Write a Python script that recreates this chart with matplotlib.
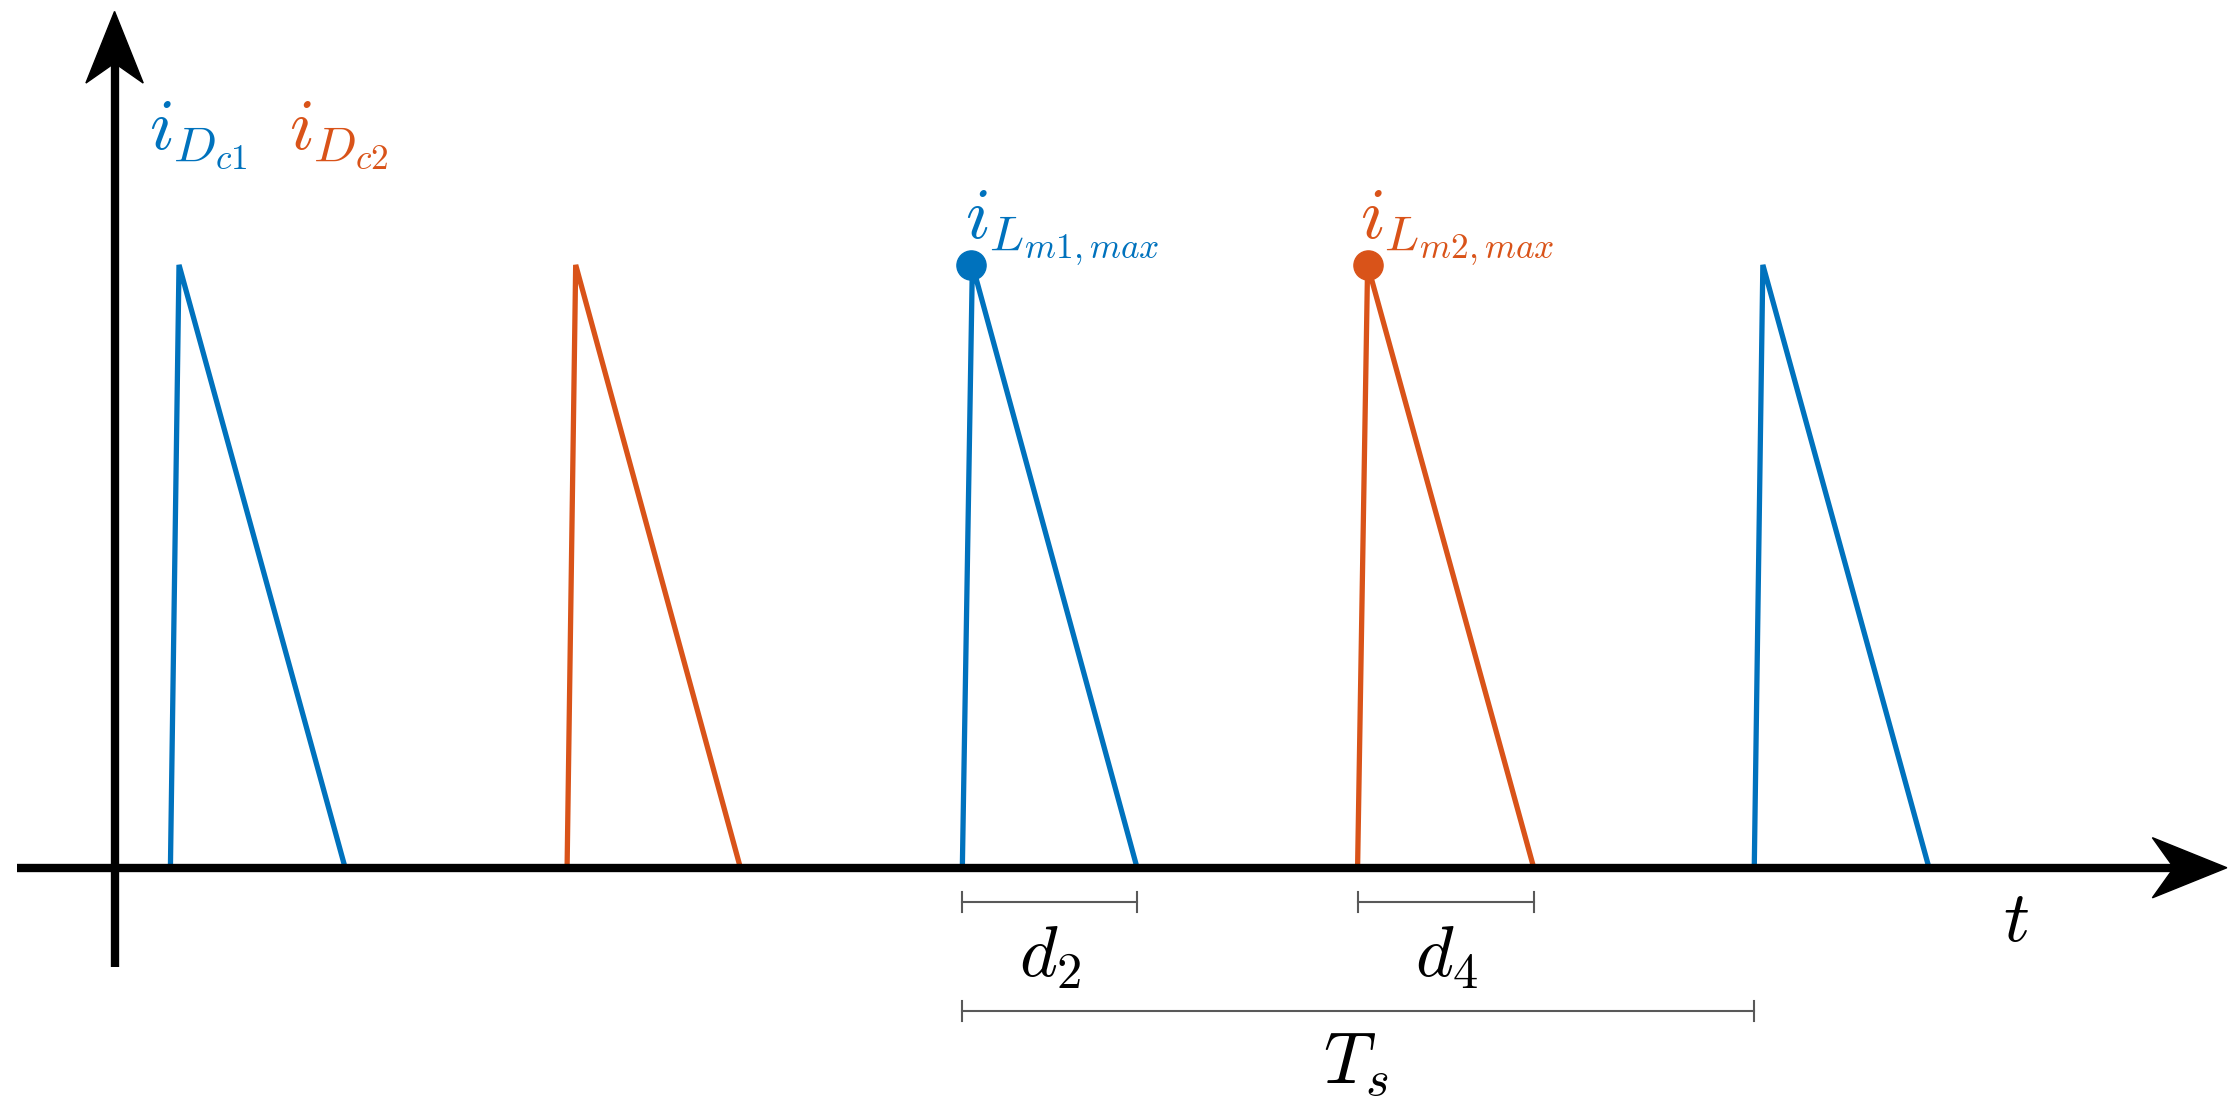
import matplotlib
matplotlib.use('Agg')
import matplotlib.pyplot as plt
from matplotlib.patches import Polygon

plt.rcParams['mathtext.fontset'] = 'cm'
BLUE, ORANGE = '#0072BD', '#D95319'

# pulse timing (start, peak, end) in image units, baseline y=606, peak y=185
pulse_start = [119, 396, 672, 948, 1225]
pulse_peak = [125, 402, 679, 955, 1231]
pulse_end = [241, 517, 794, 1071, 1347]
pulse_color = [BLUE, ORANGE, BLUE, ORANGE, BLUE]
base_y, peak_y = 606, 185

fig = plt.figure(figsize=(22.34, 11.04), dpi=100)
ax = fig.add_axes([0, 0, 1, 1])
ax.set_xlim(0, 1560); ax.set_ylim(771, 0); ax.axis('off')

for s, p, e, c in zip(pulse_start, pulse_peak, pulse_end, pulse_color):
    ax.plot([s, p, e], [base_y, peak_y, base_y], color=c, lw=3.8, solid_joinstyle='miter')

# axes with arrows
ax.plot([12, 1520], [base_y, base_y], color='k', lw=6, solid_capstyle='butt')
ax.plot([80, 80], [675, 40], color='k', lw=6, solid_capstyle='butt')
ax.add_patch(Polygon([[1555, 606], [1503, 585], [1518, 606], [1503, 627]], color='k'))
ax.add_patch(Polygon([[80, 8], [60, 58], [80, 44], [100, 58]], color='k'))

ax.plot([678], [185], 'o', color=BLUE, ms=21)
ax.plot([955], [185], 'o', color=ORANGE, ms=21)

fs = 52
ax.text(104, 104, r'$i_{D_{c1}}$', color=BLUE, fontsize=fs, va='baseline')
ax.text(202, 104, r'$i_{D_{c2}}$', color=ORANGE, fontsize=fs, va='baseline')
ax.text(674, 166, r'$i_{L_{m1,max}}$', color=BLUE, fontsize=fs, va='baseline')
ax.text(950, 166, r'$i_{L_{m2,max}}$', color=ORANGE, fontsize=fs, va='baseline')

def bracket(x0, x1, y):
    ax.plot([x0, x1], [y, y], color='0.35', lw=1.5)
    for x in (x0, x1):
        ax.plot([x, x], [y - 7, y + 7], color='0.35', lw=1.5)

bracket(672, 794, 630)
bracket(948, 1071, 630)
bracket(672, 1225, 706)
ax.text(733, 682, r'$d_2$', fontsize=fs, ha='center', va='baseline')
ax.text(1010, 682, r'$d_4$', fontsize=fs, ha='center', va='baseline')
ax.text(947, 757, r'$T_s$', fontsize=fs, ha='center', va='baseline')
ax.text(1408, 657, r'$t$', fontsize=fs, ha='center', va='baseline')

fig.savefig('out.png', dpi=100, facecolor='white')
